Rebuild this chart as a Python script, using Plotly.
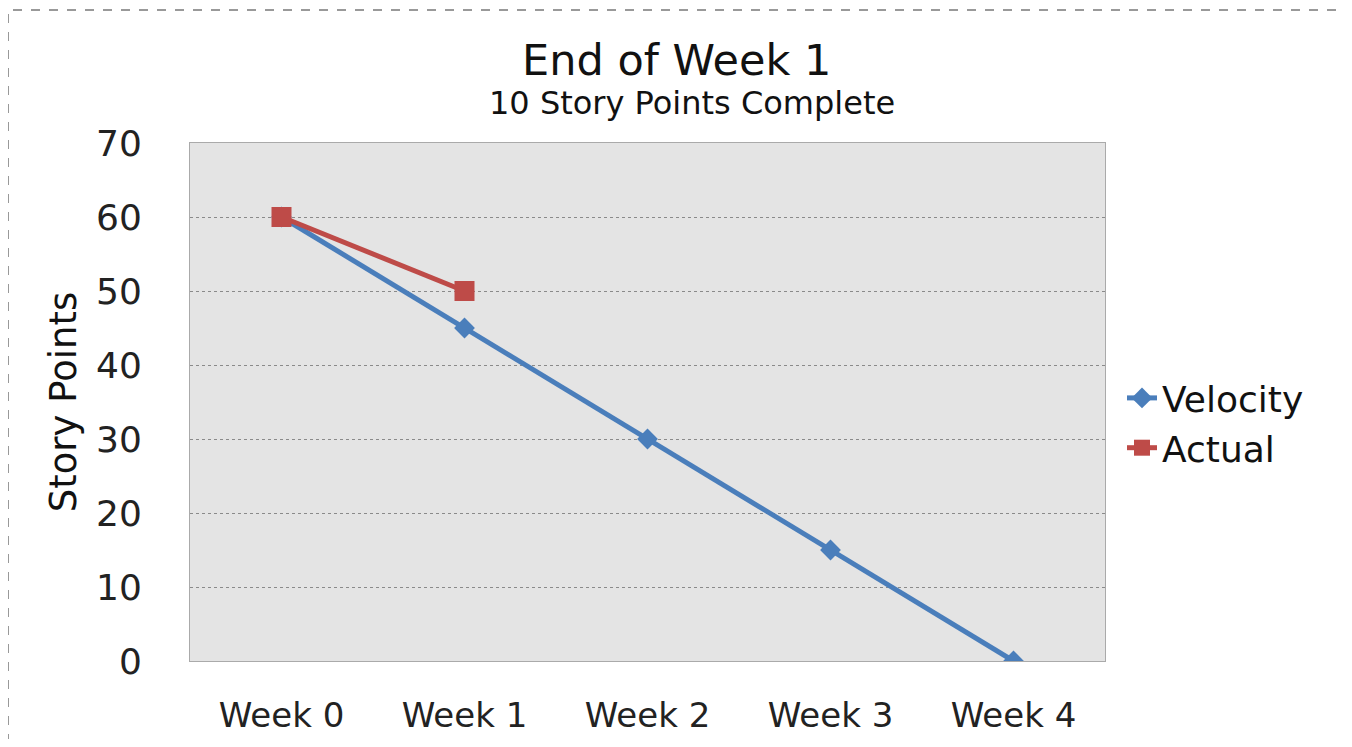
import plotly.graph_objects as go

weeks = ["Week 0", "Week 1", "Week 2", "Week 3", "Week 4"]
velocity = [60, 45, 30, 15, 0]
actual_weeks = ["Week 0", "Week 1"]
actual = [60, 50]
y_ticks = [0, 10, 20, 30, 40, 50, 60, 70]

FONT = "DejaVu Sans"
OFF = 8  # default page body margin
W, H = 1352 - 2 * OFF, 747 - 2 * OFF
# plot area in screen pixels
L, R, T, B = 190, 1105, 143, 661

fig = go.Figure()
fig.add_trace(go.Scatter(
    x=weeks, y=velocity, name="Velocity", mode="lines+markers",
    line=dict(color="#4a7ebb", width=5),
    marker=dict(symbol="diamond", size=16, color="#4a7ebb"),
))
fig.add_trace(go.Scatter(
    x=actual_weeks, y=actual, name="Actual", mode="lines+markers",
    line=dict(color="#be4b48", width=5),
    marker=dict(symbol="square", size=20, color="#be4b48"),
))

pw, ph = R - L, B - T
def px(x):
    return (x - L) / pw
def py(y):
    return (B - y) / ph

fig.update_layout(
    width=W, height=H,
    margin=dict(l=L - OFF, r=W - (R - OFF), t=T - OFF, b=H - (B - OFF), autoexpand=False),
    paper_bgcolor="white",
    plot_bgcolor="#e4e4e4",
    font=dict(family=FONT, color="#111"),
    showlegend=True,
    legend=dict(x=px(1122), y=py(423), xanchor="left", yanchor="middle",
                font=dict(size=36, family=FONT), bgcolor="rgba(0,0,0,0)",
                itemwidth=30, tracegroupgap=0),
    xaxis=dict(
        type="category", categoryorder="array", categoryarray=weeks,
        range=[-0.5, 4.5], showgrid=False, zeroline=False, automargin=False,
        tickfont=dict(size=34, family=FONT, color="#222"),
        ticks="", ticklabelstandoff=24,
        showline=True, linecolor="#aaa", linewidth=1, mirror=True,
    ),
    yaxis=dict(
        range=[0, 70], tickvals=y_ticks, showgrid=True, automargin=False,
        gridcolor="#8a8a8a", griddash="dot", gridwidth=1,
        zeroline=False, tickfont=dict(size=36, family=FONT, color="#222"),
        ticks="", ticklabelstandoff=40,
        showline=True, linecolor="#aaa", linewidth=1, mirror=True,
        title=dict(text="Story Points", font=dict(size=37, family=FONT, color="#111"), standoff=8),
    ),
    annotations=[
        dict(text="End of Week 1", xref="paper", yref="paper",
             x=px(676), y=py(60), xanchor="center", yanchor="middle", showarrow=False,
             font=dict(size=43, family=FONT, color="#111")),
        dict(text="10 Story Points Complete", xref="paper", yref="paper",
             x=px(692), y=py(103), xanchor="center", yanchor="middle", showarrow=False,
             font=dict(size=32, family=FONT, color="#111")),
    ],
    shapes=[dict(
        type="rect", xref="paper", yref="paper",
        x0=px(8), x1=px(1345), y0=py(770), y1=py(10),
        line=dict(color="#999", width=2, dash="dash"), fillcolor="rgba(0,0,0,0)", layer="below",
    )],
)

fig.write_html("out.html")
